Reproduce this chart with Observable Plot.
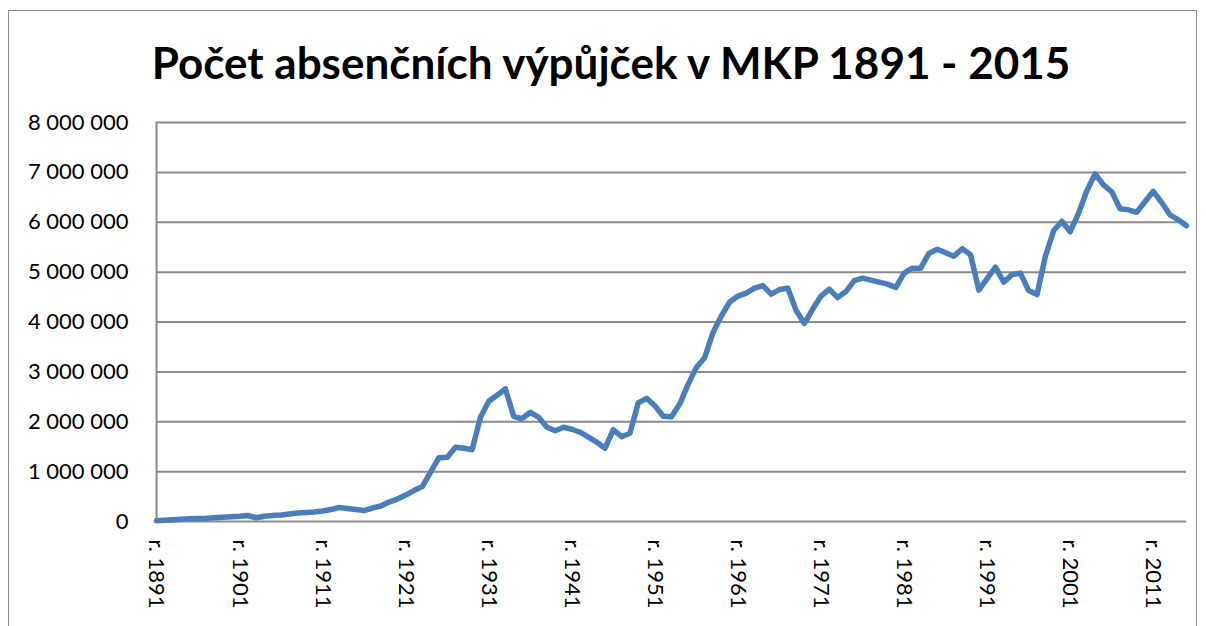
<!DOCTYPE html>
<html>
<head>
<meta charset="utf-8">
<script src="https://cdn.jsdelivr.net/npm/d3@7"></script>
<script src="https://cdn.jsdelivr.net/npm/@observablehq/plot@0.6"></script>
<style>
  html, body { margin: 0; padding: 0; background: #fff; overflow: hidden; }
  #frame { position: absolute; left: 8px; top: 10px; width: 1189px; height: 700px; border: 1.5px solid #8c8c8c; box-sizing: border-box; }
  #title { position: absolute; left: 0; top: 0; width: 1206px; height: 80px; box-sizing: border-box; padding-left: 16px; text-align: center; font-family: Lato, sans-serif; font-weight: bold; font-size: 44px; line-height: 124px; color: #000; z-index: 2; }
  #chart { position: absolute; left: 0; top: 80px; }
</style>
</head>
<body>
<div id="frame"></div>
<div id="chart"></div>
<div id="title">Počet absenčních výpůjček v MKP 1891 - 2015</div>
<script>
const years = [
  1891,1892,1893,1894,1895,1896,1897,1898,1899,1900,
  1901,1902,1903,1904,1905,1906,1907,1908,1909,1910,
  1911,1912,1913,1914,1915,1916,1917,1918,1919,1920,
  1921,1922,1923,1924,1925,1926,1927,1928,1929,1930,
  1931,1932,1933,1934,1935,1936,1937,1938,1939,1940,
  1941,1942,1943,1944,1945,1946,1947,1948,1949,1950,
  1951,1952,1953,1954,1955,1956,1957,1958,1959,1960,
  1961,1962,1963,1964,1965,1966,1967,1968,1969,1970,
  1971,1972,1973,1974,1975,1976,1977,1978,1979,1980,
  1981,1982,1983,1984,1985,1986,1987,1988,1989,1990,
  1991,1992,1993,1994,1995,1996,1997,1998,1999,2000,
  2001,2002,2003,2004,2005,2006,2007,2008,2009,2010,
  2011,2012,2013,2014,2015
];
const loans = [
  15000,25000,35000,45000,55000,60000,65000,75000,85000,95000,
  105000,120000,75000,105000,120000,130000,150000,170000,180000,190000,
  210000,240000,280000,260000,240000,220000,270000,310000,390000,450000,
  530000,620000,700000,990000,1280000,1290000,1490000,1470000,1440000,2090000,
  2410000,2530000,2660000,2110000,2060000,2190000,2090000,1890000,1820000,1890000,
  1850000,1790000,1690000,1590000,1470000,1840000,1700000,1770000,2380000,2470000,
  2320000,2110000,2100000,2360000,2750000,3090000,3290000,3790000,4120000,4400000,
  4520000,4580000,4680000,4730000,4560000,4650000,4680000,4230000,3970000,4260000,
  4520000,4660000,4490000,4610000,4830000,4880000,4840000,4800000,4760000,4690000,
  4980000,5080000,5080000,5380000,5460000,5390000,5320000,5470000,5350000,4640000,
  4870000,5100000,4800000,4950000,4980000,4630000,4550000,5310000,5830000,6020000,
  5810000,6180000,6630000,6970000,6750000,6610000,6270000,6250000,6200000,6410000,
  6620000,6400000,6150000,6050000,5930000
];
const xTicks = [1891,1901,1911,1921,1931,1941,1951,1961,1971,1981,1991,2001,2011];
const xTickPrefix = "r. ";
const yTicks = [0,1000000,2000000,3000000,4000000,5000000,6000000,7000000,8000000];

const data = years.map((y, i) => ({year: y, value: loans[i]}));
const fmt = d3.formatLocale({thousands: "\u00a0", grouping: [3], decimal: ","}).format(",");

const chart = Plot.plot({
  width: 1206,
  height: 546,
  marginTop: 42,
  marginBottom: 105,
  marginLeft: 156,
  marginRight: 20,
  style: {fontFamily: "Lato, sans-serif", fontSize: "22px", color: "#000", background: "transparent"},
  x: {domain: [1891, 2015], label: null},
  y: {domain: [0, 8000000], label: null},
  marks: [
    Plot.ruleY(yTicks, {stroke: "#8a8a8a", strokeWidth: 2}),
    Plot.ruleX([1891], {stroke: "#8a8a8a", strokeWidth: 2}),
    Plot.axisY({ticks: yTicks, tickSize: 0, tickPadding: 28, tickFormat: fmt, label: null, fontSize: 22}),
    Plot.axisX({ticks: xTicks, tickSize: 0, tickPadding: 18, tickRotate: 90, tickFormat: d => xTickPrefix + d, label: null, fontSize: 22}),
    Plot.line(data, {x: "year", y: "value", stroke: "#4a7ebb", strokeWidth: 5.5, strokeLinejoin: "round", strokeLinecap: "round"})
  ]
});
document.getElementById("chart").appendChild(chart);
</script>
</body>
</html>
